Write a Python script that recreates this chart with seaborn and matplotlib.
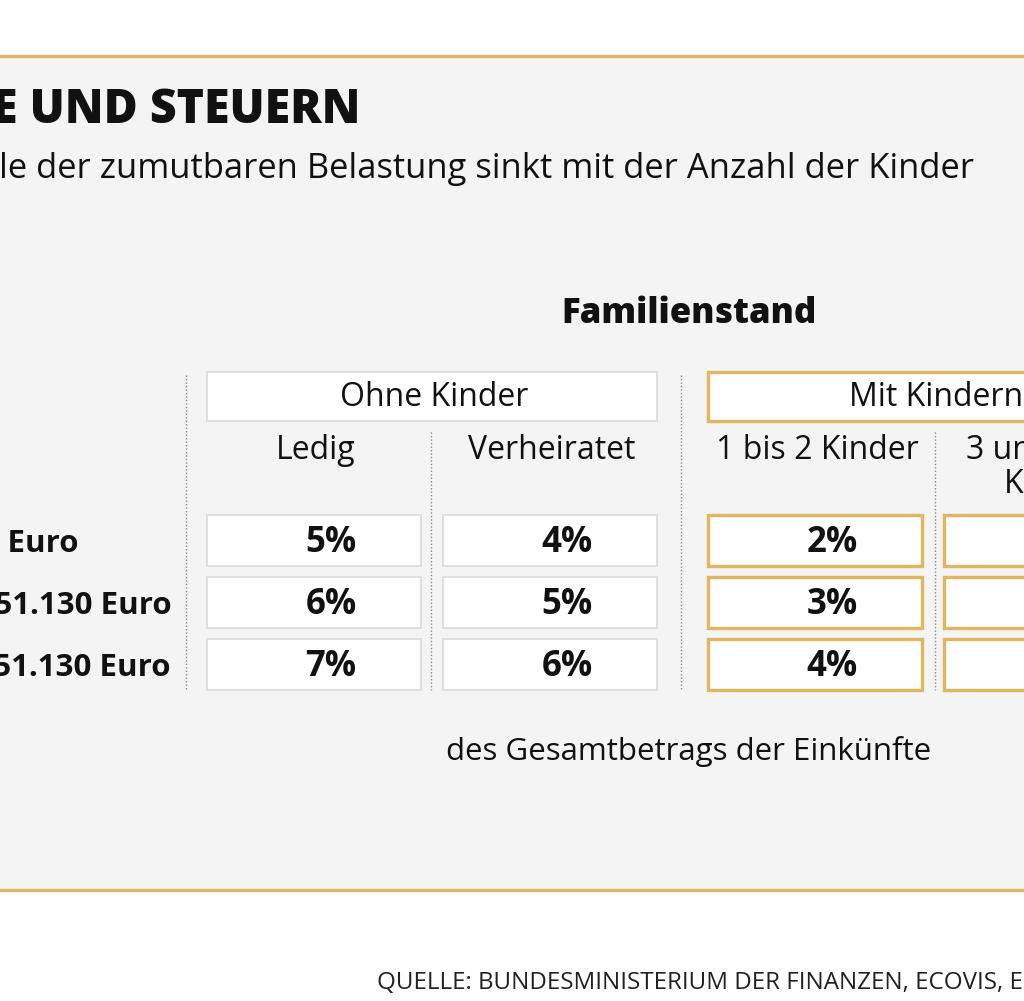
import numpy as np
import pandas as pd
import matplotlib.pyplot as plt
import seaborn as sns
from matplotlib.patches import Rectangle

# Data
title = "E UND STEUERN"
subtitle = "le der zumutbaren Belastung sinkt mit der Anzahl der Kinder"
income_rows = ["bis 15.340 Euro", "15.341 bis 51.130 Euro", "über 51.130 Euro"]
groups = ["Ohne Kinder", "Mit Kindern"]
columns = ["Ledig", "Verheiratet", "1 bis 2 Kinder", "3 und mehr\nKinder"]
col_group = [0, 0, 1, 1]
ledig = [5, 6, 7]
verheiratet = [4, 5, 6]
kinder_1_2 = [2, 3, 4]
kinder_3 = [1, 1, 2]
source = "QUELLE: BUNDESMINISTERIUM DER FINANZEN, ECOVIS, EIGENE RECHERCHE"

df = pd.DataFrame({columns[0]: ledig, columns[1]: verheiratet,
                   columns[2]: kinder_1_2, columns[3]: kinder_3},
                  index=income_rows)

sns.set_theme(style="white")
plt.rcParams['font.family'] = ['Open Sans', 'DejaVu Sans']

GOLD = "#e0b660"
GREY_EDGE = "#dcdcdc"
PANEL = "#f4f4f4"
INK = "#111111"

fig = plt.figure(figsize=(10.24, 10.01), dpi=100)
fig.patch.set_facecolor("white")
ax = fig.add_axes([0, 0, 1, 1])
ax.set_xlim(0, 1024)
ax.set_ylim(1001, 0)
ax.axis("off")

# panel
ax.add_patch(Rectangle((-10, 56), 1050, 834, facecolor=PANEL, edgecolor="none", zorder=0))
ax.plot([-10, 1040], [56, 56], color=GOLD, lw=2.4, zorder=1)
ax.plot([-10, 1040], [890, 890], color=GOLD, lw=2.4, zorder=1)

ax.text(361, 123, title, ha="right", va="baseline", fontsize=33.5, fontweight=800, color=INK)
ax.text(-1, 178, subtitle, ha="left", va="baseline", fontsize=24.8, color=INK)

ax.text(689, 323, "Familienstand", ha="center", va="baseline", fontsize=25, fontweight=800, color=INK)

# layout
col_left = [207, 443, 708, 944]
cell_w, cell_h = 214, 51
row_top = [515, 577, 639]
group_span = [(207, 657), (708, 1160)]

# separators
for x, y0 in [(186, 375), (431, 432), (681, 375), (935, 432)]:
    ax.plot([x, x], [y0, 690], color="#888888", lw=1, ls=(0, (1, 1.5)), zorder=1)

# group headers
for g, name in enumerate(groups):
    x0, x1 = group_span[g]
    edge = GREY_EDGE if g == 0 else GOLD
    lw = 1.3 if g == 0 else 2.4
    ax.add_patch(Rectangle((x0, 372), x1 - x0, 49, facecolor="white", edgecolor=edge, lw=lw, zorder=2))
    ax.text((x0 + x1) / 2 + 2, 406, name, ha="center", va="baseline", fontsize=23, color=INK, zorder=3)

# column headers
for j, col in enumerate(columns):
    cx = col_left[j] + cell_w / 2
    ax.text(cx + 2, 434, col, ha="center", va="top", fontsize=23, color=INK,
            linespacing=1.05, zorder=3)

# cells
for j, col in enumerate(df.columns):
    edge = GREY_EDGE if col_group[j] == 0 else GOLD
    lw = 1.3 if col_group[j] == 0 else 2.4
    for i, val in enumerate(df[col]):
        ax.add_patch(Rectangle((col_left[j], row_top[i]), cell_w, cell_h,
                               facecolor="white", edgecolor=edge, lw=lw, zorder=2))
        ax.text(col_left[j] + cell_w / 2 + 17, row_top[i] + 37, f"{val}%", ha="center", va="baseline",
                fontsize=25, fontweight="bold", color=INK, zorder=3)

# row labels
label_right = [78, 172, 170]
for i, lab in enumerate(income_rows):
    ax.text(label_right[i], row_top[i] + 37, lab, ha="right", va="baseline",
            fontsize=22.5, fontweight="bold", color=INK)

ax.text(689, 760, "des Gesamtbetrags der Einkünfte", ha="center", va="baseline", fontsize=22.5, color=INK)

ax.text(377, 989, source, ha="left", va="baseline", fontsize=17.4, color="#222222")

fig.savefig("out.png", dpi=100)
